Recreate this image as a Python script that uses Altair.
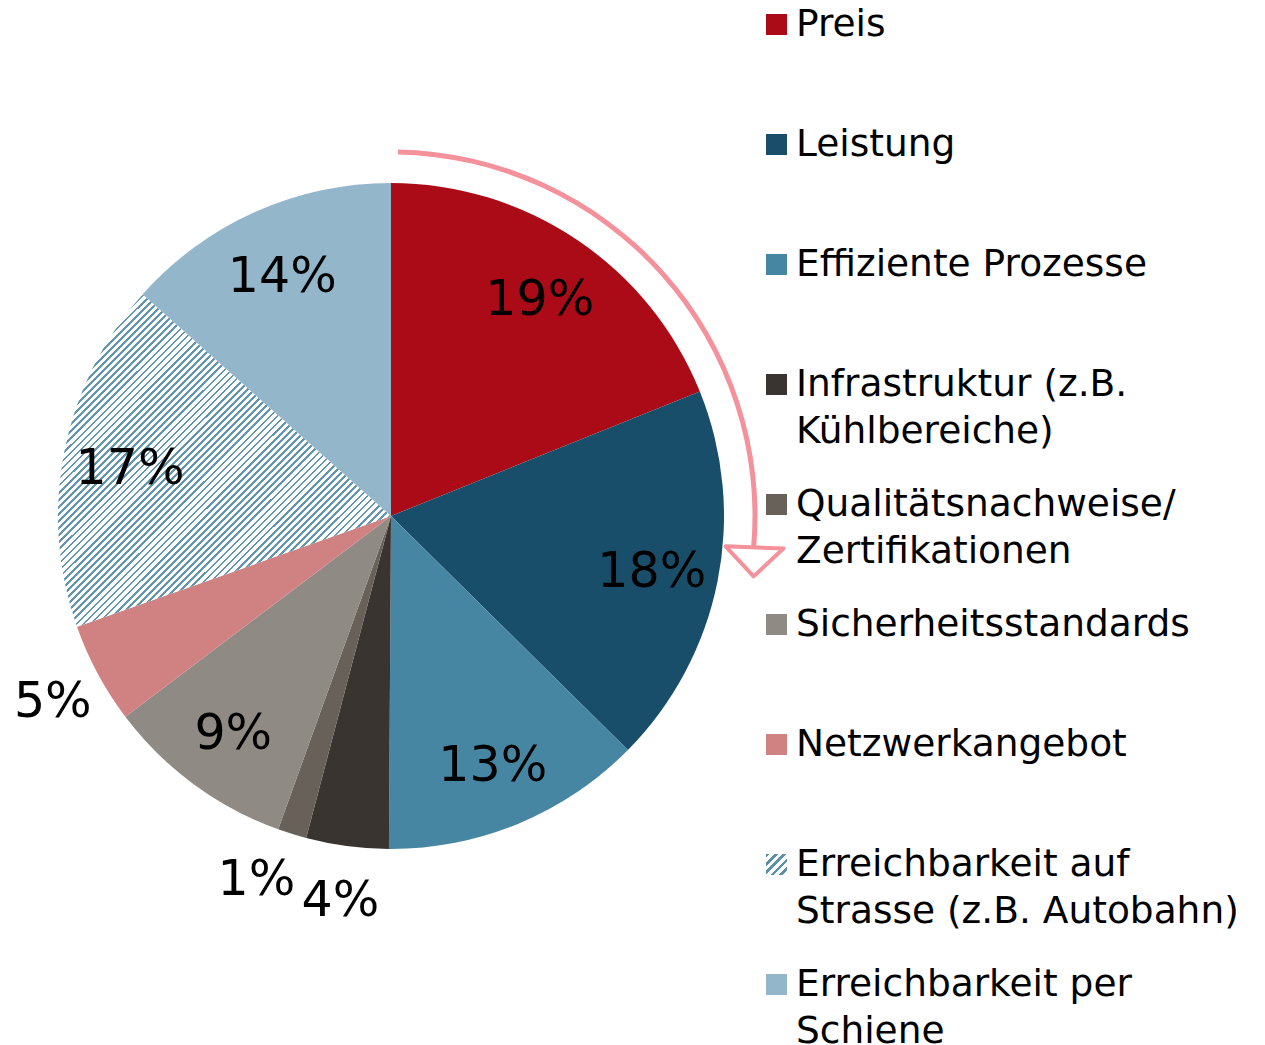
import altair as alt
import pandas as pd
import math

categories = [
    "Preis", "Leistung", "Effiziente Prozesse",
    "Infrastruktur (z.B. Kühlbereiche)", "Qualitätsnachweise/ Zertifikationen",
    "Sicherheitsstandards", "Netzwerkangebot",
    "Erreichbarkeit auf Strasse (z.B. Autobahn)", "Erreichbarkeit per Schiene",
]
legend_line1 = ["Preis", "Leistung", "Effiziente Prozesse", "Infrastruktur (z.B.",
                "Qualitätsnachweise/", "Sicherheitsstandards", "Netzwerkangebot",
                "Erreichbarkeit auf", "Erreichbarkeit per"]
legend_line2 = ["", "", "", "Kühlbereiche)", "Zertifikationen", "", "",
                "Strasse (z.B. Autobahn)", "Schiene"]
shares = [18.9, 18.5, 12.7, 4.0, 1.4, 9.2, 4.9, 17.0, 13.4]
labels = [19, 18, 13, 4, 1, 9, 5, 17, 14]
colors = ["#ab0b16", "#184e6a", "#4786a3", "#3a3430", "#68615a",
          "#8f8a83", "#d08283", "#4a7f9b", "#93b6cb"]
HATCHED = categories[7]

FONT = "DejaVu Sans"
PINK = "#f4919a"
CX, CY, R = 383, 508, 333
ARROW_R, ARROW_W = 364, 5
ARROW_START_DEG, ARROW_END_DEG = 1.1, 95.5
HEAD_DEG, HEAD_R = 97.2, 366


def stripes(n, dark, light, frac=0.45):
    stops = []
    for i in range(n):
        a, b, c = i / n, (i + frac) / n, (i + 1) / n
        stops += [{"offset": a, "color": dark}, {"offset": b, "color": dark},
                  {"offset": b, "color": light}, {"offset": c, "color": light}]
    return {"gradient": "linear", "x1": 0, "y1": 0, "x2": 1, "y2": 1, "stops": stops}


hatch_big = stripes(94, "#6296b0", "#ffffff", 0.38)
hatch_small = stripes(5, "#5a8fab", "#ffffff", 0.45)

pie_df = pd.DataFrame({
    "idx": list(range(len(categories))),
    "cat": categories,
    "share": shares,
    "label": [f"{v}%" for v in labels],
})
leg_df = pd.DataFrame({
    "idx": list(range(len(categories))),
    "cat": categories,
    "line1": legend_line1,
    "line2": legend_line2,
})

color_scale = alt.Scale(domain=categories, range=colors)
theta_scale = alt.Scale(domain=[0, 100])
is_hatched = alt.datum.cat == HATCHED

base = alt.Chart(pie_df)

pie = base.mark_arc(outerRadius=R).encode(
    theta=alt.Theta("share:Q", stack=True, scale=theta_scale),
    order=alt.Order("idx:Q"),
    fill=alt.condition(is_hatched, alt.value(hatch_big),
                       alt.Color("cat:N", scale=color_scale, legend=None)),
    x=alt.value(CX), y=alt.value(CY),
)

# label position: slice middle; tiny slices nudged so neighbouring outside labels don't collide
pie_labels = base.transform_window(
    cum="sum(share)", sort=[alt.SortField("idx")], frame=[None, 0]
).transform_calculate(
    mid="datum.cum - datum.share / 2 + (datum.share < 2 ? 0.9 : 0)",
    lr="datum.share >= 8 ? 266 : 384",
).mark_text(font=FONT, fontSize=49, color="black", align="center", baseline="middle",
            dy=4).encode(
    theta=alt.Theta("mid:Q", stack=None, scale=theta_scale),
    radius=alt.Radius("lr:Q", scale=None),
    text="label:N",
    x=alt.value(CX), y=alt.value(CY),
)

one = alt.Chart(pd.DataFrame({"a": [0]}))
arrow_line = one.mark_arc(
    theta=math.radians(ARROW_START_DEG), theta2=math.radians(ARROW_END_DEG),
    radius=ARROW_R + ARROW_W / 2, radius2=ARROW_R - ARROW_W / 2, color=PINK,
).encode(x=alt.value(CX), y=alt.value(CY))

hx = CX + HEAD_R * math.sin(math.radians(HEAD_DEG))
hy = CY - HEAD_R * math.cos(math.radians(HEAD_DEG))
arrow_head = one.mark_point(
    shape="M -1 -0.5 L 1 -0.5 L 0 0.5 Z", size=58 * 58, filled=True, fill="white",
    stroke=PINK, strokeWidth=4, strokeJoin="round", angle=2, opacity=1,
).encode(x=alt.value(hx), y=alt.value(hy))

Y = alt.Y("idx:Q", scale=alt.Scale(domain=[0, 8], range=[16.5, 976.5]), axis=None)
lbase = alt.Chart(leg_df)
leg_sym = lbase.mark_point(shape="square", size=441, filled=True, opacity=1).encode(
    x=alt.value(768.5), y=Y,
    fill=alt.condition(is_hatched, alt.value(hatch_small),
                       alt.Color("cat:N", scale=color_scale, legend=None)),
)
leg_t1 = lbase.mark_text(font=FONT, fontSize=37.5, color="black", align="left",
                         baseline="alphabetic", dy=11.5).encode(
    x=alt.value(788), y=Y, text="line1:N")
leg_t2 = lbase.mark_text(font=FONT, fontSize=37.5, color="black", align="left",
                         baseline="alphabetic", dy=58).encode(
    x=alt.value(788), y=Y, text="line2:N")

chart = alt.layer(pie, pie_labels, arrow_line, arrow_head, leg_sym, leg_t1, leg_t2).properties(
    width=1241, height=1038, padding=0, autosize="none",
).configure_view(stroke=None)

chart.save("out.html", embed_options={"renderer": "svg", "actions": False})
